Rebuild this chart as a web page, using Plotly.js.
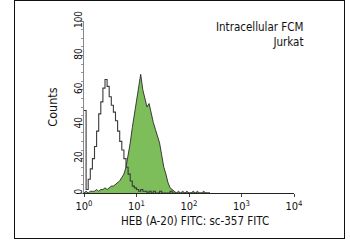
<!DOCTYPE html>
<html>
<head>
<meta charset="utf-8">
<script src="https://cdn.plot.ly/plotly-3.0.1.min.js"></script>
<style>
  html, body { margin: 0; padding: 0; background: #fff; }
  #wrap { position: relative; width: 350px; height: 241px; }
  #chart { width: 350px; height: 241px; }
  #frame { position: absolute; left: 14px; top: 0px; width: 329px; height: 237px;
           border: 1.5px solid #111; pointer-events: none; }
</style>
</head>
<body>
<div id="wrap">
  <div id="chart"></div>
  <div id="frame"></div>
</div>
<script>
// Histogram bins: log10 channel exponent step (decades per bin)
const binStep = 0.04;

// Control (unfilled outline) counts per bin
const controlCounts = [48,2,8,14,20,27,36,46,53,61,66,62,56,51,47,42,36,30,25,20,
                       15,11,7,4,3,2,1,2,1,1,0,1,0,1,0,0,1,0,0,0,
                       0,1,0,0,0,0,0,0,0,0,0,0,0,0,0,0,0,0,0,0,0];

// HEB (A-20) FITC stained (green filled) counts per bin
const stainedCounts = [0,1,0,1,1,1,2,1,2,2,3,2,3,4,4,5,6,7,9,11,
                       15,21,29,38,46,54,60,69,60,55,50,52,46,41,37,33,29,22,15,11,
                       6,3,2,1,0,1,0,1,0,1,0,0,1,0,1,0,0,1,0,0,0];

// Axis ticks
const xTickVals = [1, 10, 100, 1000, 10000];
const xTickText = ['10<sup>0</sup>', '10<sup>1</sup>', '10<sup>2</sup>', '10<sup>3</sup>', '10<sup>4</sup>'];
const yTickVals = [0, 20, 40, 60, 80, 100];

const binCenters = controlCounts.map((_, i) => Math.pow(10, i * binStep));

const FONT = 'Liberation Sans Narrow, Arial Narrow, DejaVu Sans Condensed, sans-serif';

const traces = [
  {
    x: binCenters, y: stainedCounts, type: 'scatter', mode: 'lines',
    fill: 'tozeroy', fillcolor: 'rgb(125,190,90)',
    line: { color: '#2a2a2a', width: 0.9 }, hoverinfo: 'skip'
  },
  {
    x: binCenters, y: controlCounts, type: 'scatter', mode: 'lines',
    line: { color: '#3a3a3a', width: 1.1, shape: 'hv' }, hoverinfo: 'skip'
  }
];

const layout = {
  width: 350, height: 241,
  margin: { l: 84, r: 56, t: 21, b: 48 },
  paper_bgcolor: '#fff', plot_bgcolor: '#fff',
  showlegend: false,
  font: { family: FONT, size: 11, color: '#111' },
  xaxis: {
    type: 'log', range: [0, 4],
    tickmode: 'array', tickvals: xTickVals, ticktext: xTickText,
    showgrid: false, zeroline: false,
    showline: true, linecolor: '#222', linewidth: 1,
    ticks: 'outside', ticklen: 3, tickcolor: '#444',
    tickfont: { family: FONT, size: 11, color: '#111' }
  },
  yaxis: {
    range: [0, 100],
    tickmode: 'array', tickvals: yTickVals, tickangle: -90,
    showgrid: false, zeroline: false,
    showline: true, linecolor: '#888', linewidth: 1,
    ticks: 'outside', ticklen: 3, tickcolor: '#777',
    ticklabelstandoff: -6,
    minor: { dtick: 5, ticks: 'outside', ticklen: 2, tickcolor: '#999' },
    tickfont: { family: FONT, size: 10, color: '#111' },
    title: { text: 'Counts', font: { family: FONT, size: 12.5, color: '#111' }, standoff: 12 }
  },
  annotations: [
    {
      xref: 'paper', yref: 'paper', x: 1.05, y: 1.015,
      xanchor: 'right', yanchor: 'top', align: 'right', showarrow: false,
      text: 'Intracellular FCM<br>Jurkat',
      font: { family: FONT, size: 11.5, color: '#111' }
    },
    {
      xref: 'paper', yref: 'paper', x: 0.529, y: -0.165,
      xanchor: 'center', yanchor: 'middle', showarrow: false,
      text: 'HEB (A-20) FITC: sc-357 FITC',
      font: { family: FONT, size: 11.5, color: '#111' }
    }
  ]
};

Plotly.newPlot('chart', traces, layout, { staticPlot: true, displayModeBar: false });
</script>
</body>
</html>
